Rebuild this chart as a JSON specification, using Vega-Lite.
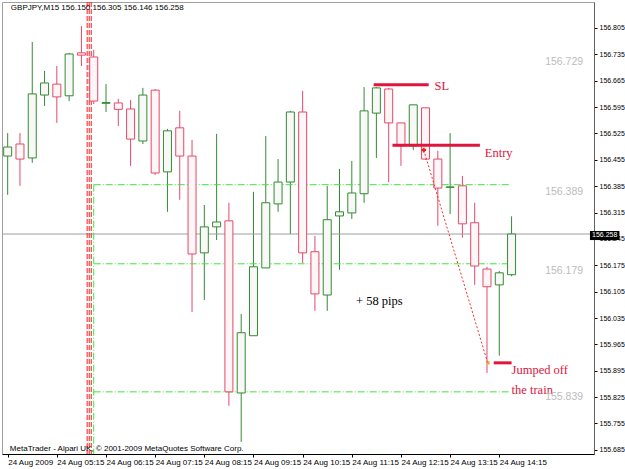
{
  "$schema": "https://vega.github.io/schema/vega-lite/v6.json",
  "width": 592,
  "height": 452,
  "autosize": "none",
  "padding": {"left": 2, "top": 2, "right": 31, "bottom": 15},
  "background": "white",
  "config": {
    "view": {"stroke": "#a0a0a0", "strokeWidth": 1},
    "font": "Liberation Sans",
    "axis": {"grid": false, "labelColor": "#000000", "tickColor": "#000000", "labelFont": "Liberation Sans", "labelOverlap": false, "tickSize": 3}
  },
  "datasets": {
    "candles": [
      {"t": "2009-08-24T04:15:00Z", "open": 156.465, "high": 156.526, "low": 156.362, "close": 156.489},
      {"t": "2009-08-24T04:30:00Z", "open": 156.497, "high": 156.526, "low": 156.386, "close": 156.457},
      {"t": "2009-08-24T04:45:00Z", "open": 156.460, "high": 156.768, "low": 156.447, "close": 156.630},
      {"t": "2009-08-24T05:00:00Z", "open": 156.627, "high": 156.691, "low": 156.598, "close": 156.659},
      {"t": "2009-08-24T05:15:00Z", "open": 156.656, "high": 156.704, "low": 156.553, "close": 156.622},
      {"t": "2009-08-24T05:30:00Z", "open": 156.625, "high": 156.739, "low": 156.611, "close": 156.736},
      {"t": "2009-08-24T05:45:00Z", "open": 156.739, "high": 156.810, "low": 156.704, "close": 156.733},
      {"t": "2009-08-24T06:00:00Z", "open": 156.728, "high": 156.747, "low": 156.603, "close": 156.611},
      {"t": "2009-08-24T06:15:00Z", "open": 156.605, "high": 156.656, "low": 156.582, "close": 156.607},
      {"t": "2009-08-24T06:30:00Z", "open": 156.606, "high": 156.617, "low": 156.545, "close": 156.589},
      {"t": "2009-08-24T06:45:00Z", "open": 156.590, "high": 156.614, "low": 156.439, "close": 156.510},
      {"t": "2009-08-24T07:00:00Z", "open": 156.505, "high": 156.646, "low": 156.497, "close": 156.627},
      {"t": "2009-08-24T07:15:00Z", "open": 156.640, "high": 156.643, "low": 156.415, "close": 156.420},
      {"t": "2009-08-24T07:30:00Z", "open": 156.423, "high": 156.537, "low": 156.317, "close": 156.532},
      {"t": "2009-08-24T07:45:00Z", "open": 156.540, "high": 156.585, "low": 156.349, "close": 156.465},
      {"t": "2009-08-24T08:00:00Z", "open": 156.465, "high": 156.508, "low": 156.051, "close": 156.205},
      {"t": "2009-08-24T08:15:00Z", "open": 156.208, "high": 156.335, "low": 156.083, "close": 156.277},
      {"t": "2009-08-24T08:30:00Z", "open": 156.277, "high": 156.524, "low": 156.242, "close": 156.290},
      {"t": "2009-08-24T08:45:00Z", "open": 156.293, "high": 156.341, "low": 155.802, "close": 155.839},
      {"t": "2009-08-24T09:00:00Z", "open": 155.836, "high": 156.046, "low": 155.706, "close": 155.996},
      {"t": "2009-08-24T09:15:00Z", "open": 155.988, "high": 156.370, "low": 155.988, "close": 156.171},
      {"t": "2009-08-24T09:30:00Z", "open": 156.168, "high": 156.518, "low": 156.168, "close": 156.341},
      {"t": "2009-08-24T09:45:00Z", "open": 156.338, "high": 156.457, "low": 156.317, "close": 156.396},
      {"t": "2009-08-24T10:00:00Z", "open": 156.396, "high": 156.585, "low": 156.258, "close": 156.582},
      {"t": "2009-08-24T10:15:00Z", "open": 156.582, "high": 156.638, "low": 156.181, "close": 156.208},
      {"t": "2009-08-24T10:30:00Z", "open": 156.211, "high": 156.253, "low": 156.054, "close": 156.099},
      {"t": "2009-08-24T10:45:00Z", "open": 156.096, "high": 156.386, "low": 156.054, "close": 156.296},
      {"t": "2009-08-24T11:00:00Z", "open": 156.306, "high": 156.431, "low": 156.163, "close": 156.317},
      {"t": "2009-08-24T11:15:00Z", "open": 156.314, "high": 156.452, "low": 156.298, "close": 156.367},
      {"t": "2009-08-24T11:30:00Z", "open": 156.365, "high": 156.648, "low": 156.341, "close": 156.585},
      {"t": "2009-08-24T11:45:00Z", "open": 156.579, "high": 156.648, "low": 156.460, "close": 156.646},
      {"t": "2009-08-24T12:00:00Z", "open": 156.643, "high": 156.646, "low": 156.396, "close": 156.553},
      {"t": "2009-08-24T12:15:00Z", "open": 156.553, "high": 156.553, "low": 156.439, "close": 156.492},
      {"t": "2009-08-24T12:30:00Z", "open": 156.492, "high": 156.601, "low": 156.481, "close": 156.601},
      {"t": "2009-08-24T12:45:00Z", "open": 156.593, "high": 156.593, "low": 156.455, "close": 156.457},
      {"t": "2009-08-24T13:00:00Z", "open": 156.457, "high": 156.479, "low": 156.280, "close": 156.380},
      {"t": "2009-08-24T13:15:00Z", "open": 156.382, "high": 156.526, "low": 156.311, "close": 156.383},
      {"t": "2009-08-24T13:30:00Z", "open": 156.386, "high": 156.412, "low": 156.248, "close": 156.285},
      {"t": "2009-08-24T13:45:00Z", "open": 156.288, "high": 156.341, "low": 156.123, "close": 156.173},
      {"t": "2009-08-24T14:00:00Z", "open": 156.165, "high": 156.171, "low": 155.889, "close": 156.118},
      {"t": "2009-08-24T14:15:00Z", "open": 156.123, "high": 156.160, "low": 155.935, "close": 156.155},
      {"t": "2009-08-24T14:30:00Z", "open": 156.150, "high": 156.305, "low": 156.146, "close": 156.258}
    ],
    "current": [{"p": 156.258}],
    "levels": [{"p": 156.389}, {"p": 156.179}, {"p": 155.839}],
    "levelLabels": [
      {"t": "2009-08-24T15:57:20Z", "p": 156.715, "label": "156.729"},
      {"t": "2009-08-24T15:57:20Z", "p": 156.370, "label": "156.389"},
      {"t": "2009-08-24T15:57:20Z", "p": 156.160, "label": "156.179"},
      {"t": "2009-08-24T15:57:20Z", "p": 155.826, "label": "155.839"}
    ],
    "redVerticals": [
      {"t": "2009-08-24T05:52:00Z"},
      {"t": "2009-08-24T05:54:30Z"},
      {"t": "2009-08-24T05:57:00Z"}
    ],
    "tradeLines": [
      {"t1": "2009-08-24T11:41:40Z", "t2": "2009-08-24T12:48:50Z", "p": 156.654},
      {"t1": "2009-08-24T12:04:40Z", "t2": "2009-08-24T13:51:20Z", "p": 156.494},
      {"t1": "2009-08-24T14:08:10Z", "t2": "2009-08-24T14:30:00Z", "p": 155.916}
    ],
    "path": [
      {"t": "2009-08-24T12:42:50Z", "p": 156.481},
      {"t": "2009-08-24T14:00:50Z", "p": 155.916}
    ],
    "redNotes": [
      {"t": "2009-08-24T12:56:00Z", "p": 156.652, "label": "SL"},
      {"t": "2009-08-24T13:57:20Z", "p": 156.474, "label": "Entry"},
      {"t": "2009-08-24T14:30:00Z", "p": 155.898, "label": "Jumped off"},
      {"t": "2009-08-24T14:30:00Z", "p": 155.843, "label": "the train"}
    ],
    "blackNotes": [
      {"t": "2009-08-24T11:20:10Z", "p": 156.080, "label": "+ 58 pips"}
    ],
    "corner": [
      {"t": "2009-08-24T04:18:50Z", "p": 156.857, "label": "GBPJPY,M15  156.150 156.305 156.146 156.258"},
      {"t": "2009-08-24T04:17:40Z", "p": 155.688, "label": "MetaTrader - Alpari UK, © 2001-2009 MetaQuotes Software Corp."}
    ],
    "tag": [
      {"t1": "2009-08-24T16:05:40Z", "t2": "2009-08-24T16:41:40Z", "tm": "2009-08-24T16:23:40Z", "p1": 156.266, "p2": 156.242, "p": 156.256, "label": "156.258"}
    ]
  },
  "layer": [
    {
      "data": {"name": "candles"},
      "mark": {"type": "rule", "strokeWidth": 1},
      "encoding": {
        "x": {
          "field": "t", "type": "temporal",
          "scale": {"type": "utc", "domain": [
            {"year": 2009, "month": "aug", "date": 24, "hours": 4, "minutes": 14, "seconds": 10, "utc": true},
            {"year": 2009, "month": "aug", "date": 24, "hours": 16, "minutes": 4, "seconds": 30, "utc": true}
          ]},
          "axis": {
            "title": null,
            "values": [
              {"year": 2009, "month": "aug", "date": 24, "hours": 4, "minutes": 15, "utc": true},
              {"year": 2009, "month": "aug", "date": 24, "hours": 5, "minutes": 15, "utc": true},
              {"year": 2009, "month": "aug", "date": 24, "hours": 6, "minutes": 15, "utc": true},
              {"year": 2009, "month": "aug", "date": 24, "hours": 7, "minutes": 15, "utc": true},
              {"year": 2009, "month": "aug", "date": 24, "hours": 8, "minutes": 15, "utc": true},
              {"year": 2009, "month": "aug", "date": 24, "hours": 9, "minutes": 15, "utc": true},
              {"year": 2009, "month": "aug", "date": 24, "hours": 10, "minutes": 15, "utc": true},
              {"year": 2009, "month": "aug", "date": 24, "hours": 11, "minutes": 15, "utc": true},
              {"year": 2009, "month": "aug", "date": 24, "hours": 12, "minutes": 15, "utc": true},
              {"year": 2009, "month": "aug", "date": 24, "hours": 13, "minutes": 15, "utc": true},
              {"year": 2009, "month": "aug", "date": 24, "hours": 14, "minutes": 15, "utc": true}
            ],
            "tickCount": 30,
            "labelExpr": "utcFormat(datum.value, '%H:%M') == '04:15' ? '24 Aug 2009' : utcFormat(datum.value, '%d %b %H:%M')",
            "labelAlign": "left", "labelFontSize": 8, "labelPadding": 1, "labelFlush": false, "labelOverlap": false,
            "domainColor": "#000000"
          }
        },
        "y": {
          "field": "low", "type": "quantitative",
          "scale": {"domain": [155.674, 156.874], "nice": false, "zero": false},
          "axis": {
            "orient": "right", "title": null,
            "values": [156.805, 156.735, 156.665, 156.595, 156.525, 156.455, 156.385, 156.315, 156.245, 156.175, 156.105, 156.035, 155.965, 155.895, 155.825, 155.755, 155.685],
            "tickCount": 40,
            "format": ".3f", "labelFontSize": 7, "labelPadding": 2, "domainColor": "#606060",
            "labelOverlap": false, "labelBound": false, "labelFlush": false
          }
        },
        "y2": {"field": "high"},
        "color": {"condition": {"test": "datum.close >= datum.open", "value": "#348a34"}, "value": "#e6486b"}
      }
    },
    {
      "data": {"name": "current"},
      "mark": {"type": "rule", "stroke": "#9aa0a6", "strokeWidth": 1},
      "encoding": {"y": {"field": "p", "type": "quantitative", "axis": {"title": null, "orient": "right"}}}
    },
    {
      "data": {"name": "levels"},
      "mark": {"type": "rule", "stroke": "#3ee63e", "strokeWidth": 1, "strokeDash": [7, 2, 1, 2]},
      "encoding": {
        "x": {"datum": {"year": 2009, "month": "aug", "date": 24, "hours": 6, "minutes": 0, "utc": true}, "type": "temporal", "axis": {"title": null}},
        "x2": {"datum": {"year": 2009, "month": "aug", "date": 24, "hours": 14, "minutes": 27, "utc": true}},
        "y": {"field": "p", "type": "quantitative", "axis": {"title": null, "orient": "right"}}
      }
    },
    {
      "data": {"name": "levels"},
      "transform": [{"filter": "datum.p > 156.3"}],
      "mark": {"type": "rule", "stroke": "#3ee63e", "strokeWidth": 1, "strokeDash": [7, 2, 1, 2]},
      "encoding": {
        "x": {"datum": {"year": 2009, "month": "aug", "date": 24, "hours": 6, "minutes": 0, "utc": true}, "type": "temporal", "axis": {"title": null}},
        "y": {"field": "p", "type": "quantitative", "axis": {"title": null, "orient": "right"}},
        "y2": {"datum": 155.674}
      }
    },
    {
      "data": {"name": "redVerticals"},
      "mark": {"type": "rule", "stroke": "#ff1a1a", "strokeWidth": 1, "strokeDash": [5, 2]},
      "encoding": {
        "x": {"field": "t", "type": "temporal", "axis": {"title": null}},
        "y": {"datum": 156.874, "type": "quantitative", "axis": {"title": null, "orient": "right"}},
        "y2": {"datum": 155.674}
      }
    },
    {
      "data": {"name": "candles"},
      "mark": {"type": "bar", "width": 8, "strokeWidth": 1},
      "encoding": {
        "x": {"field": "t", "type": "temporal", "axis": {"title": null}},
        "y": {"field": "open", "type": "quantitative", "axis": {"title": null, "orient": "right"}},
        "y2": {"field": "close"},
        "stroke": {"condition": {"test": "datum.close >= datum.open", "value": "#348a34"}, "value": "#e6486b"},
        "fill": {"condition": {"test": "datum.close >= datum.open", "value": "#f8f8f6"}, "value": "#fdf6f7"}
      }
    },
    {
      "data": {"name": "tradeLines"},
      "mark": {"type": "rule", "stroke": "#e0143c", "strokeWidth": 3},
      "encoding": {
        "x": {"field": "t1", "type": "temporal", "axis": {"title": null}},
        "x2": {"field": "t2"},
        "y": {"field": "p", "type": "quantitative", "axis": {"title": null, "orient": "right"}}
      }
    },
    {
      "data": {"name": "path"},
      "mark": {"type": "line", "stroke": "#ff2a2a", "strokeWidth": 1, "strokeDash": [2, 2]},
      "encoding": {
        "x": {"field": "t", "type": "temporal", "axis": {"title": null}},
        "y": {"field": "p", "type": "quantitative", "axis": {"title": null, "orient": "right"}}
      }
    },
    {
      "data": {"name": "path"},
      "transform": [{"filter": "datum.p > 156"}],
      "mark": {"type": "point", "shape": "cross", "filled": true, "color": "#ff1a1a", "size": 22, "opacity": 1},
      "encoding": {
        "x": {"field": "t", "type": "temporal", "axis": {"title": null}},
        "y": {"field": "p", "type": "quantitative", "axis": {"title": null, "orient": "right"}}
      }
    },
    {
      "data": {"name": "path"},
      "transform": [{"filter": "datum.p < 156"}],
      "mark": {"type": "point", "shape": "triangle-left", "filled": true, "color": "#f0a020", "size": 18, "opacity": 1},
      "encoding": {
        "x": {"field": "t", "type": "temporal", "axis": {"title": null}},
        "y": {"field": "p", "type": "quantitative", "axis": {"title": null, "orient": "right"}}
      }
    },
    {
      "data": {"name": "redNotes"},
      "mark": {"type": "text", "font": "Liberation Serif", "fontSize": 12.5, "color": "#e0143c", "align": "left", "baseline": "middle"},
      "encoding": {
        "x": {"field": "t", "type": "temporal", "axis": {"title": null}},
        "y": {"field": "p", "type": "quantitative", "axis": {"title": null, "orient": "right"}},
        "text": {"field": "label"}
      }
    },
    {
      "data": {"name": "blackNotes"},
      "mark": {"type": "text", "font": "Liberation Serif", "fontSize": 12.5, "color": "#000000", "align": "left", "baseline": "middle"},
      "encoding": {
        "x": {"field": "t", "type": "temporal", "axis": {"title": null}},
        "y": {"field": "p", "type": "quantitative", "axis": {"title": null, "orient": "right"}},
        "text": {"field": "label"}
      }
    },
    {
      "data": {"name": "levelLabels"},
      "mark": {"type": "text", "font": "Liberation Sans", "fontSize": 10.5, "color": "#bcbcbc", "align": "right", "baseline": "middle"},
      "encoding": {
        "x": {"field": "t", "type": "temporal", "axis": {"title": null}},
        "y": {"field": "p", "type": "quantitative", "axis": {"title": null, "orient": "right"}},
        "text": {"field": "label"}
      }
    },
    {
      "data": {"name": "corner"},
      "mark": {"type": "text", "font": "Liberation Sans", "fontSize": 8, "color": "#000000", "align": "left", "baseline": "middle"},
      "encoding": {
        "x": {"field": "t", "type": "temporal", "axis": {"title": null}},
        "y": {"field": "p", "type": "quantitative", "axis": {"title": null, "orient": "right"}},
        "text": {"field": "label"}
      }
    },
    {
      "data": {"name": "tag"},
      "mark": {"type": "rect", "color": "#000000"},
      "encoding": {
        "x": {"field": "t1", "type": "temporal", "axis": {"title": null}},
        "x2": {"field": "t2"},
        "y": {"field": "p1", "type": "quantitative", "axis": {"title": null, "orient": "right"}},
        "y2": {"field": "p2"}
      }
    },
    {
      "data": {"name": "tag"},
      "mark": {"type": "text", "font": "Liberation Sans", "fontSize": 7, "color": "#ffffff", "align": "center", "baseline": "middle"},
      "encoding": {
        "x": {"field": "tm", "type": "temporal", "axis": {"title": null}},
        "y": {"field": "p", "type": "quantitative", "axis": {"title": null, "orient": "right"}},
        "text": {"field": "label"}
      }
    }
  ]
}
